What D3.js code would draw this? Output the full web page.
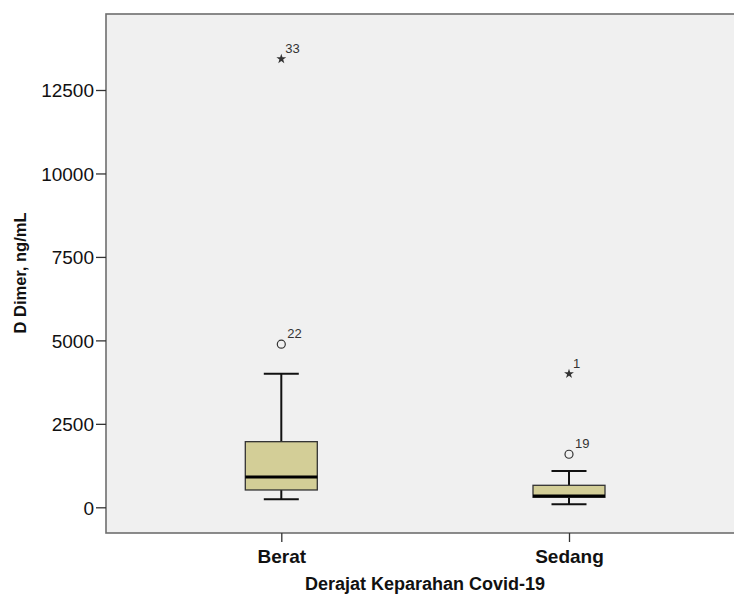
<!DOCTYPE html>
<html><head><meta charset="utf-8">
<script src="https://cdn.jsdelivr.net/npm/d3@7"></script>
<style>body{margin:0;background:#fff}svg{display:block}</style>
</head><body>
<svg id="c" width="734" height="597"></svg>
<script>
const categories = ["Berat", "Sedang"];
const q1 = [519, 300];
const medians = [908, 339];
const q3 = [1966, 659];
const whiskerLow = [240, 90];
const whiskerHigh = [4000, 1088];
const outliers = [[{v: 4886, id: "22"}], [{v: 1589, id: "19"}]];
const extremes = [[{v: 13430, id: "33"}], [{v: 3996, id: "1"}]];
const yTicks = [0, 2500, 5000, 7500, 10000, 12500];

const svg = d3.select("#c");
const L = 106, T = 14, R = 734, B = 533;
const y = d3.scaleLinear().domain([0, 12500]).range([507.3, 90]);
const x = d3.scalePoint().domain(categories).range([281.3, 569]);
const font = "'Liberation Sans', Arial, sans-serif";

svg.append("rect").attr("x", L).attr("y", T).attr("width", R - L + 2).attr("height", B - T)
  .attr("fill", "#f0f0f0").attr("stroke", "#6e6e6e").attr("stroke-width", 1.6);

const ya = svg.append("g").attr("transform", `translate(${L},0)`)
  .call(d3.axisLeft(y).tickValues(yTicks).tickSize(10).tickPadding(2).tickFormat(d3.format("d")));
ya.select(".domain").remove();
ya.selectAll("line").attr("stroke", "#333").attr("stroke-width", 1.3);
ya.selectAll("text").attr("font-family", font).attr("font-size", 19).attr("fill", "#111").attr("dy", "0.36em");

const xa = svg.append("g").attr("transform", `translate(0,${B})`)
  .call(d3.axisBottom(x).tickSize(9).tickPadding(8));
xa.select(".domain").remove();
xa.selectAll("line").attr("stroke", "#333").attr("stroke-width", 1.3);
xa.selectAll("text").attr("font-family", font).attr("font-size", 19).attr("font-weight", "bold").attr("fill", "#111");

const bw = 72, cw = 35;
const g = svg.append("g");
categories.forEach((c, i) => {
  const cx = x(c);
  g.append("line").attr("x1", cx).attr("x2", cx).attr("y1", y(whiskerHigh[i])).attr("y2", y(q3[i])).attr("stroke", "#111").attr("stroke-width", 2);
  g.append("line").attr("x1", cx).attr("x2", cx).attr("y1", y(q1[i])).attr("y2", y(whiskerLow[i])).attr("stroke", "#111").attr("stroke-width", 2);
  [whiskerHigh[i], whiskerLow[i]].forEach(v => {
    g.append("line").attr("x1", cx - cw / 2).attr("x2", cx + cw / 2).attr("y1", y(v)).attr("y2", y(v)).attr("stroke", "#111").attr("stroke-width", 2);
  });
  g.append("rect").attr("x", cx - bw / 2).attr("y", y(q3[i])).attr("width", bw).attr("height", y(q1[i]) - y(q3[i]))
    .attr("fill", "#d3ce97").attr("stroke", "#333").attr("stroke-width", 1.3);
  g.append("line").attr("x1", cx - bw / 2).attr("x2", cx + bw / 2).attr("y1", y(medians[i])).attr("y2", y(medians[i])).attr("stroke", "#000").attr("stroke-width", 3);
  outliers[i].forEach(o => {
    g.append("circle").attr("cx", cx).attr("cy", y(o.v)).attr("r", 4).attr("fill", "none").attr("stroke", "#333").attr("stroke-width", 1.2);
    g.append("text").attr("x", cx + 6).attr("y", y(o.v) - 6).text(o.id).attr("font-family", font).attr("font-size", 13).attr("fill", "#333");
  });
  extremes[i].forEach(o => {
    g.append("path").attr("d", d3.symbol(d3.symbolStar, 30)()).attr("transform", `translate(${cx},${y(o.v)})`).attr("fill", "#333");
    g.append("text").attr("x", cx + 4).attr("y", y(o.v) - 6).text(o.id).attr("font-family", font).attr("font-size", 13).attr("fill", "#333");
  });
});

svg.append("text").attr("transform", "translate(26,273) rotate(-90)").attr("text-anchor", "middle")
  .attr("font-family", font).attr("font-size", 16.5).attr("font-weight", "bold").attr("fill", "#111").text("D Dimer, ng/mL");
svg.append("text").attr("x", 425).attr("y", 590).attr("text-anchor", "middle")
  .attr("font-family", font).attr("font-size", 18).attr("font-weight", "bold").attr("fill", "#111").text("Derajat Keparahan Covid-19");
</script>
</body></html>
